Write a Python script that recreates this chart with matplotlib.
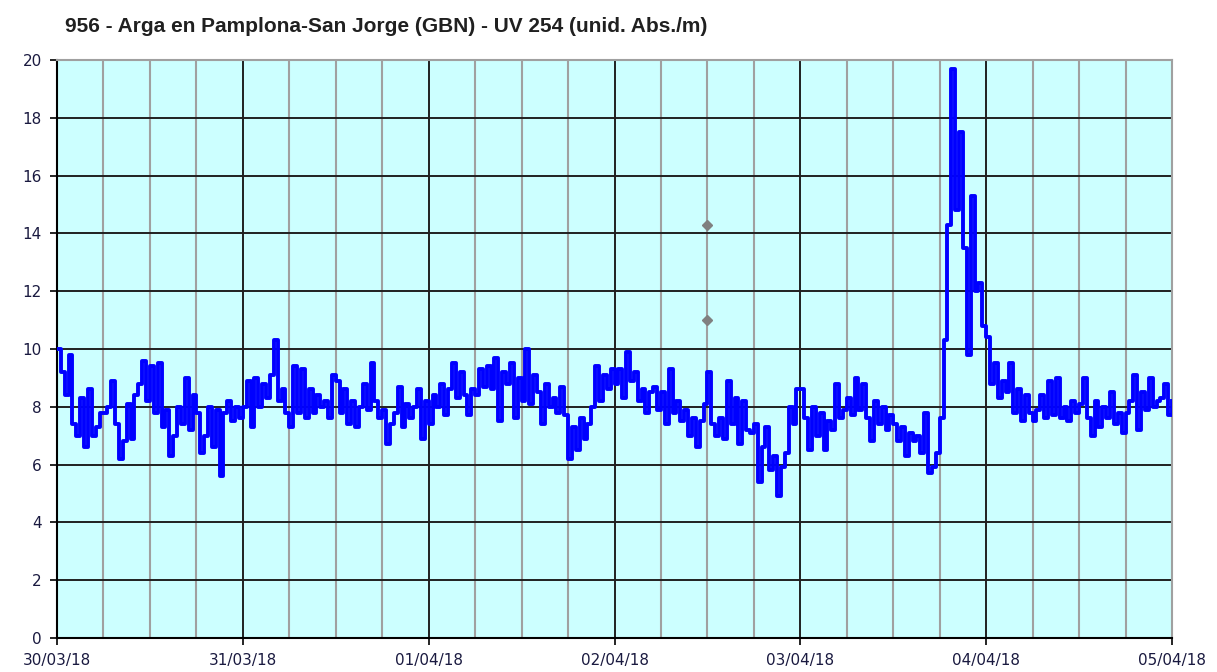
import matplotlib
matplotlib.use("Agg")
import matplotlib.pyplot as plt
import matplotlib.dates as mdates
import pandas as pd

title = "956 - Arga en Pamplona-San Jorge (GBN) - UV 254 (unid. Abs./m)"

# UV 254 readings every 30 min, 30/03/18 00:00 -> 05/04/18 00:00 (one row per 6 h)
uv = [
    10.0, 9.2, 8.4, 9.8, 7.4, 7.0, 8.3, 6.6, 8.6, 7.0, 7.3, 7.8,
    7.8, 8.0, 8.9, 7.4, 6.2, 6.8, 8.1, 6.9, 8.4, 8.8, 9.6, 8.2,
    9.4, 7.8, 9.5, 7.3, 7.9, 6.3, 7.0, 8.0, 7.4, 9.0, 7.2, 8.4,
    7.8, 6.4, 7.0, 8.0, 6.6, 7.9, 5.6, 7.8, 8.2, 7.5, 8.0, 7.6,
    8.0, 8.9, 7.3, 9.0, 8.0, 8.8, 8.3, 9.1, 10.3, 8.2, 8.6, 7.8,
    7.3, 9.4, 7.8, 9.3, 7.6, 8.6, 7.8, 8.4, 8.0, 8.2, 7.6, 9.1,
    8.9, 7.8, 8.6, 7.4, 8.2, 7.3, 8.0, 8.8, 7.9, 9.5, 8.2, 7.6,
    7.9, 6.7, 7.4, 7.8, 8.7, 7.3, 8.1, 7.6, 8.0, 8.6, 6.9, 8.2,
    7.4, 8.4, 8.0, 8.8, 7.7, 8.6, 9.5, 8.3, 9.2, 8.4, 7.7, 8.6,
    8.4, 9.3, 8.7, 9.4, 8.6, 9.7, 7.5, 9.2, 8.8, 9.5, 7.6, 9.0,
    8.2, 10.0, 8.1, 9.1, 8.5, 7.4, 8.8, 8.0, 8.3, 7.8, 8.7, 7.7,
    6.2, 7.3, 6.5, 7.6, 6.9, 7.4, 8.0, 9.4, 8.2, 9.1, 8.6, 9.3,
    8.8, 9.3, 8.3, 9.9, 8.9, 9.2, 8.2, 8.6, 7.8, 8.5, 8.7, 7.9,
    8.5, 7.4, 9.3, 7.8, 8.2, 7.5, 7.9, 7.0, 7.6, 6.6, 7.5, 8.1,
    9.2, 7.4, 7.0, 7.6, 6.9, 8.9, 7.4, 8.3, 6.7, 8.2, 7.2, 7.1,
    7.4, 5.4, 6.6, 7.3, 5.8, 6.3, 4.9, 5.9, 6.4, 8.0, 7.4, 8.6,
    8.6, 7.6, 6.5, 8.0, 7.0, 7.8, 6.5, 7.5, 7.2, 8.8, 7.6, 7.9,
    8.3, 7.7, 9.0, 7.9, 8.8, 7.6, 6.8, 8.2, 7.4, 8.0, 7.2, 7.7,
    7.4, 6.8, 7.3, 6.3, 7.1, 6.8, 7.0, 6.4, 7.8, 5.7, 5.9, 6.4,
    7.6, 10.3, 14.3, 19.7, 14.8, 17.5, 13.5, 9.8, 15.3, 12.0, 12.3, 10.8,
    10.4, 8.8, 9.5, 8.3, 8.9, 8.5, 9.5, 7.8, 8.6, 7.5, 8.4, 7.8,
    7.5, 7.9, 8.4, 7.6, 8.9, 7.7, 9.0, 7.6, 8.0, 7.5, 8.2, 7.8,
    8.1, 9.0, 7.6, 7.0, 8.2, 7.3, 8.0, 7.6, 8.5, 7.4, 7.8, 7.1,
    7.8, 8.2, 9.1, 7.2, 8.5, 7.9, 9.0, 8.0, 8.2, 8.3, 8.8, 7.7,
    8.2,
]
times = pd.date_range("2018-03-30", periods=len(uv), freq="30min")

# two isolated grey points
pts_time = pd.to_datetime(["2018-04-02 12:00", "2018-04-02 12:00"])
pts_val = [14.3, 11.0]

day_labels = ["30/03/18", "31/03/18", "01/04/18", "02/04/18", "03/04/18", "04/04/18", "05/04/18"]
days = pd.date_range("2018-03-30", periods=len(day_labels), freq="D")

fig = plt.figure(figsize=(12.17, 6.72), dpi=100)
ax = fig.add_axes([57 / 1217, 34 / 672, 1115 / 1217, 578 / 672])
ax.set_facecolor("#CCFFFF")

ax.plot(times, uv, color="#0000FF", lw=2.8, drawstyle="steps-post", zorder=3)
ax.plot(pts_time, pts_val, ls="none", marker="D", ms=5, color="#808080", zorder=3)

ax.set_xlim(days[0], days[-1])
ax.set_ylim(0, 20)
ax.set_yticks(range(0, 21, 2))
ax.set_xticks(days)
ax.set_xticklabels(day_labels)
ax.xaxis.set_minor_locator(mdates.HourLocator(byhour=[6, 12, 18]))

ax.grid(which="minor", axis="x", color="#A0A0A0", lw=1.5, zorder=1)
ax.grid(which="major", color="#202020", lw=1.4, zorder=1)
ax.set_axisbelow(True)

ax.tick_params(axis="both", which="major", direction="out", length=5, width=1.2,
               labelsize=11, labelcolor="#1A1A40", pad=6)
ax.tick_params(axis="x", which="minor", length=0)
for s in ["left", "bottom"]:
    ax.spines[s].set_color("black")
    ax.spines[s].set_linewidth(1.5)
for s in ["top", "right"]:
    ax.spines[s].set_color("#A0A0A0")
    ax.spines[s].set_linewidth(1.5)

fig.text(65 / 1217, 1 - 27 / 672, title, fontsize=15, fontweight="bold",
         family=["Liberation Sans Narrow", "Liberation Sans", "DejaVu Sans"],
         ha="left", va="center", color="#202020")

fig.savefig("out.png", dpi=100)
